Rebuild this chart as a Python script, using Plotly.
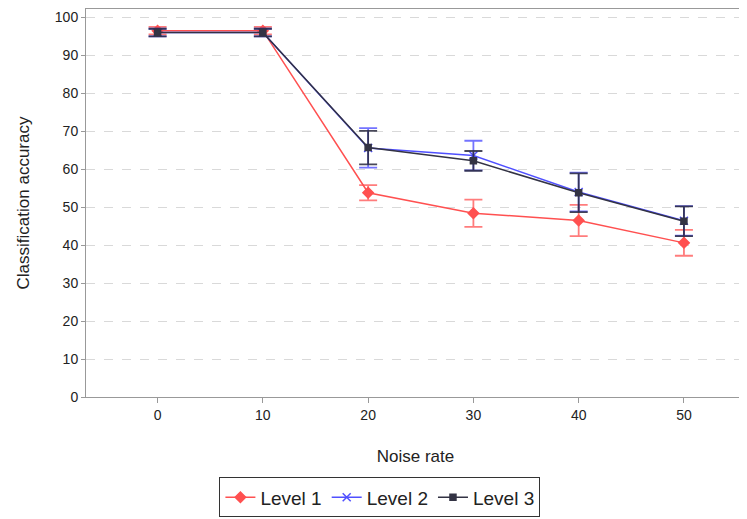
import plotly.graph_objects as go

noise_rate = [0, 10, 20, 30, 40, 50]

level1 = [96.5, 96.5, 53.8, 48.4, 46.5, 40.6]
level1_err = [1.0, 1.0, 2.0, 3.6, 4.1, 3.4]

level2 = [96.0, 96.0, 65.6, 63.6, 54.0, 46.4]
level2_err = [1.0, 1.0, 5.2, 3.9, 5.1, 3.9]

level3 = [96.0, 96.0, 65.7, 62.2, 53.8, 46.3]
level3_err = [1.0, 1.0, 4.4, 2.6, 5.1, 3.9]

fig = go.Figure()

series = [
    ("Level 1", level1, level1_err, "#ff5050", "rgba(255,80,80,0.75)", "diamond", 8),
    ("Level 2", level2, level2_err, "#5050ff", "rgba(80,80,255,0.8)", "x-thin", 8),
    ("Level 3", level3, level3_err, "#333344", "rgba(40,40,60,0.85)", "square", 6),
]

for name, vals, errs, color, err_color, symbol, size in series:
    fig.add_trace(go.Scatter(
        x=noise_rate,
        y=vals,
        name=name,
        mode="lines+markers",
        line=dict(color=color, width=1.5),
        marker=dict(symbol=symbol, size=size, color=color,
                    line=dict(color=color, width=1.5)),
        error_y=dict(type="data", array=errs, visible=True,
                     color=err_color, thickness=1.8, width=9),
    ))

# the page body adds an 8px offset, so the figure is a bit smaller than the window
fig.update_layout(
    width=739,
    height=511,
    margin=dict(l=78, r=2, t=1, b=122, autoexpand=False),
    paper_bgcolor="white",
    plot_bgcolor="white",
    font=dict(family="Liberation Sans, Arial, sans-serif", size=14, color="#222222"),
    legend=dict(
        orientation="h",
        x=0.446, xanchor="center",
        y=-0.207, yanchor="top",
        bordercolor="#333333", borderwidth=1,
        font=dict(size=19, color="#222222"),
        itemwidth=30,
        tracegroupgap=0,
    ),
    showlegend=True,
)

fig.update_xaxes(
    title=dict(text="Noise rate", font=dict(size=17), standoff=28),
    automargin=False,
    range=[-6.8, 55.8],
    tickvals=noise_rate,
    ticks="outside", ticklen=5, tickcolor="#999999",
    showgrid=False, zeroline=False,
    showline=True, linecolor="#999999", linewidth=1, mirror=True,
)

fig.update_yaxes(
    title=dict(text="Classification accuracy", font=dict(size=17), standoff=20),
    automargin=False,
    range=[0, 102.2],
    dtick=10,
    ticks="outside", ticklen=4, tickcolor="#999999",
    showgrid=True, gridcolor="#d9d9d9", griddash="dash", gridwidth=1,
    zeroline=False,
    showline=True, linecolor="#999999", linewidth=1, mirror=True,
)

fig.write_html("out.html")
